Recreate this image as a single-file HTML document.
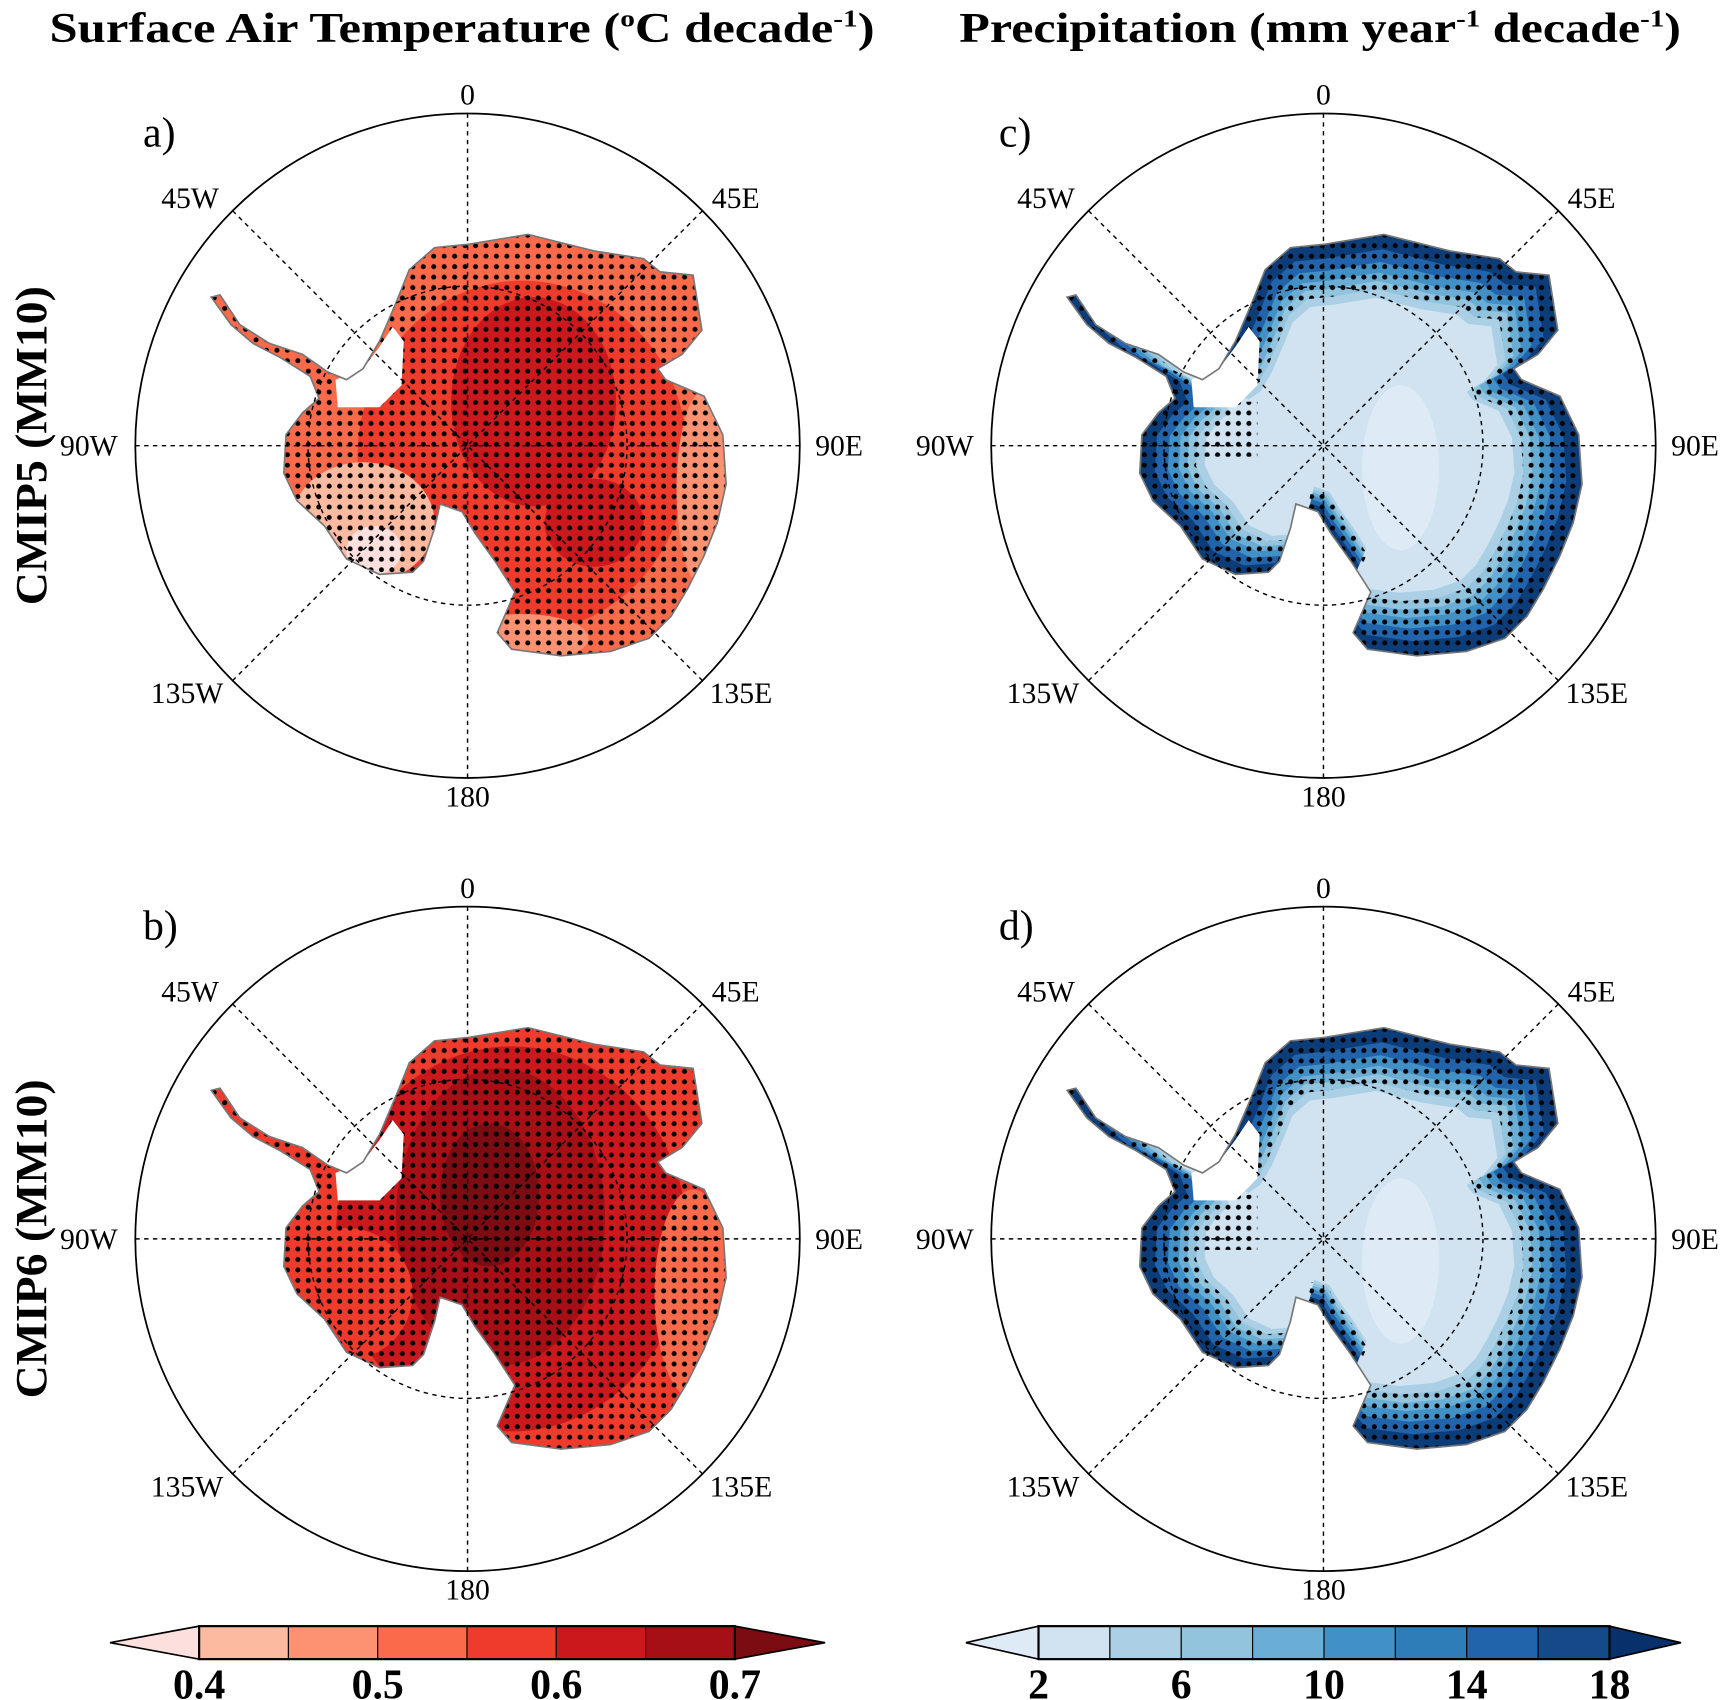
<!DOCTYPE html>
<html><head><meta charset="utf-8"><style>
html,body{margin:0;padding:0;background:#fff;}
svg{display:block;font-family:"Liberation Serif",serif;}
</style></head><body>
<svg id="fig" width="1725" height="1700" viewBox="0 0 1568 1545" xmlns="http://www.w3.org/2000/svg" font-family="Liberation Serif, serif">
<defs>
<pattern id="stip" width="9.5" height="9.5" patternUnits="userSpaceOnUse"><circle cx="4.75" cy="4.75" r="2.3" fill="#000"/></pattern>
</defs>
<text x="420" y="38" font-size="38" font-weight="bold" text-anchor="middle" textLength="750" lengthAdjust="spacingAndGlyphs">Surface Air Temperature (<tspan font-size="22" dy="-14">o</tspan><tspan dy="14">C decade</tspan><tspan font-size="22" dy="-14">-1</tspan><tspan dy="14">)</tspan></text>
<text x="1200" y="38" font-size="38" font-weight="bold" text-anchor="middle" textLength="656" lengthAdjust="spacingAndGlyphs">Precipitation (mm year<tspan font-size="22" dy="-14">-1</tspan><tspan dy="14"> decade</tspan><tspan font-size="22" dy="-14">-1</tspan><tspan dy="14">)</tspan></text>
<text transform="translate(42,405) rotate(-90)" font-size="40" font-weight="bold" text-anchor="middle" textLength="290" lengthAdjust="spacingAndGlyphs">CMIP5 (MM10)</text>
<text transform="translate(42,1126) rotate(-90)" font-size="40" font-weight="bold" text-anchor="middle" textLength="290" lengthAdjust="spacingAndGlyphs">CMIP6 (MM10)</text>
<g id="panels"></g>
<g id="cbars"></g>
</svg>
<script>
// colorbar data
const tempLevels = [0.4,0.45,0.5,0.55,0.6,0.65,0.7];
const tempColors = ["#fde0dd","#fcbba1","#fc9272","#fb6a4a","#ef3b2c","#cb181d","#a50f15","#7a0c12"];
const tempTicks = ["0.4","0.5","0.6","0.7"];
const precLevels = [2,4,6,8,10,12,14,16,18];
const precColors = ["#deebf7","#d1e3f0","#abd0e6","#93c4de","#6aaed6","#4191c6","#2e7db9","#2264ab","#144a88","#08306b"];
const precTicks = ["2","6","10","14","18"];
const lonLabels = ["0","45E","90E","135E","180","135W","90W","45W"];

const NS="http://www.w3.org/2000/svg";
function mk(tag,attrs,parent){const e=document.createElementNS(NS,tag);for(const k in attrs)e.setAttribute(k,attrs[k]);if(parent)parent.appendChild(e);return e;}

const coast=[[0,-183],[55,-192],[115,-177],[160,-170],[175,-158],[205,-155],[213,-105],[195,-83],[173,-70],[180,-60],[215,-45],[232,-10],[235,35],[227,70],[215,100],[200,130],[185,155],[165,175],[130,187],[85,191],[40,185],[27,170],[37,147],[43,133],[25,105],[7,80],[-5,60],[-25,53],[-30,75],[-40,105],[-50,115],[-80,117],[-110,103],[-130,73],[-155,50],[-167,25],[-165,-10],[-150,-30],[-135,-43],[-143,-63],[-170,-80],[-195,-93],[-215,-110],[-233,-135],[-225,-137],[-207,-110],[-180,-93],[-150,-83],[-127,-67],[-110,-60],[-95,-70],[-80,-95],[-65,-130],[-53,-160],[-30,-180]];
const weddell=[[-120,-60],[-95,-70],[-80,-90],[-68,-108],[-58,-95],[-60,-55],[-80,-35],[-118,-35]];
function poly(pts,cx,cy,s,ox,oy){s=s||1;ox=ox||30;oy=oy||0;return pts.map(p=>((cx+ox+(p[0]-ox)*s).toFixed(1))+","+((cy+oy+(p[1]-oy)*s).toFixed(1))).join(" ");}

const panels=[
 {id:"a",cx:425,cy:405,type:"temp",blobs:[[50,10,150,160,"#ef3b2c"],[-95,70,65,55,"#fcbba1"],[-85,95,25,22,"#fde0dd"],[215,40,25,90,"#fc9272"],[60,-40,75,95,"#cb181d"],[115,70,45,40,"#cb181d"],[50,175,60,22,"#fc9272"]],base:"#fb6a4a"},
 {id:"b",cx:425,cy:1126,type:"temp",blobs:[[40,0,160,175,"#cb181d"],[30,-20,95,135,"#a50f15"],[20,-40,45,65,"#7a0c12"],[205,50,35,95,"#fb6a4a"],[-110,50,60,60,"#ef3b2c"]],base:"#ef3b2c"},
 {id:"c",cx:1203,cy:405,type:"prec"},
 {id:"d",cx:1203,cy:1126,type:"prec"}
];
const g=document.getElementById("panels");
panels.forEach(P=>{
 const pg=mk("g",{},g);
 
 
 const cid="clip"+P.id;
 const cp=mk("clipPath",{id:cid},pg);
 mk("polygon",{points:poly(coast,P.cx,P.cy)},cp);
 const mg=mk("g",{"clip-path":"url(#"+cid+")"},pg);
 
 
 if(P.type==="temp"){
  mk("polygon",{points:poly(coast,P.cx,P.cy),fill:P.base},mg);
  P.blobs.forEach(b=>{mk("ellipse",{cx:P.cx+b[0],cy:P.cy+b[1],rx:b[2],ry:b[3],fill:b[4]},mg);});
  const st=mk("polygon",{points:poly(coast,P.cx,P.cy),fill:"url(#stip)"},mg);
  
  
 } else {
  const ring=[[1,"#0d3d78"],[0.93,"#2264ab"],[0.87,"#4191c6"],[0.82,"#6aaed6"],[0.78,"#93c4de"],[0.74,"#abd0e6"],[0.7,"#d1e3f0"]];
  ring.forEach(r=>mk("polygon",{points:poly(coast,P.cx,P.cy,r[0]),fill:r[1]},mg));
  mk("ellipse",{cx:P.cx+70,cy:P.cy+20,rx:35,ry:75,fill:"#deebf7"},mg);
  const mid="m"+P.id;
  const m=mk("mask",{id:mid},pg);
  mk("polygon",{points:poly(coast,P.cx,P.cy),fill:"#fff"},m);
  mk("polygon",{points:poly(coast,P.cx,P.cy,0.74),fill:"#000"},m);
  mk("rect",{x:P.cx-170,y:P.cy-40,width:110,height:50,fill:"#fff"},m);
  const st=mk("rect",{x:P.cx-300,y:P.cy-300,width:600,height:600,fill:"url(#stip)",mask:"url(#"+mid+")"},mg);
  
  
 }
 mk("polygon",{points:poly(weddell,P.cx,P.cy),fill:"#fff"},mg);
 const cl=mk("polygon",{points:poly(coast,P.cx,P.cy),fill:"none",stroke:"#777","stroke-width":1.5},pg);
 
 
 const r=302;
 for(let i=0;i<4;i++){const a=i*Math.PI/4;
  mk("line",{x1:P.cx-r*Math.sin(a),y1:P.cy+r*Math.cos(a),x2:P.cx+r*Math.sin(a),y2:P.cy-r*Math.cos(a),stroke:"#000","stroke-width":1.3,"stroke-dasharray":"4,4"},pg);}
 const lc=mk("circle",{cx:P.cx,cy:P.cy,r:145,fill:"none",stroke:"#000","stroke-width":1.3,"stroke-dasharray":"4,4"},pg);
 
 
 const oc=mk("circle",{cx:P.cx,cy:P.cy,r:r,fill:"none",stroke:"#000","stroke-width":1.6},pg);
 
 
 const pos=[[0,-310,"middle"],[222,-216,"start"],[316,9,"start"],[220,234,"start"],[0,328,"middle"],[-222,234,"end"],[-318,9,"end"],[-226,-216,"end"]];
 lonLabels.forEach((L,i)=>{const t=mk("text",{x:P.cx+pos[i][0],y:P.cy+pos[i][1],"font-size":27,"text-anchor":pos[i][2]},pg);t.textContent=L;
  
  });
 const pl=mk("text",{x:P.cx-295,y:P.cy-272,"font-size":38},pg);pl.textContent=P.id+")";
 
 
});

function cbar(levels,colors,ticks,x0,x1,tipL,tipR,name){
 const cg=mk("g",{},document.getElementById("cbars"));
 
 
 const y0=1478,y1=1508,ym=(y0+y1)/2;
 const n=levels.length-1;
 const xs=v=>x0+(v-levels[0])/(levels[n]-levels[0])*(x1-x0);
 mk("polygon",{points:`${tipL},${ym} ${x0},${y0} ${x0},${y1}`,fill:colors[0],stroke:"#000","stroke-width":1.5},cg);
 for(let i=0;i<n;i++){const rc=mk("rect",{x:xs(levels[i]),y:y0,width:xs(levels[i+1])-xs(levels[i]),height:y1-y0,fill:colors[i+1],stroke:"#000","stroke-width":1},cg);
  
  }
 mk("polygon",{points:`${tipR},${ym} ${x1},${y0} ${x1},${y1}`,fill:colors[colors.length-1],stroke:"#000","stroke-width":1.5},cg);
 mk("rect",{x:x0,y:y0,width:x1-x0,height:y1-y0,fill:"none",stroke:"#000","stroke-width":2},cg);
 ticks.forEach(tk=>{const t=mk("text",{x:xs(parseFloat(tk)),y:1544,"font-size":38,"font-weight":"bold","text-anchor":"middle"},cg);t.textContent=tk;
  
  });
}
cbar(tempLevels,tempColors,tempTicks,181,668,100,750,"colorbar-temperature");
cbar(precLevels,precColors,precTicks,944,1463,878,1528,"colorbar-precipitation");
</script>
</body></html>
